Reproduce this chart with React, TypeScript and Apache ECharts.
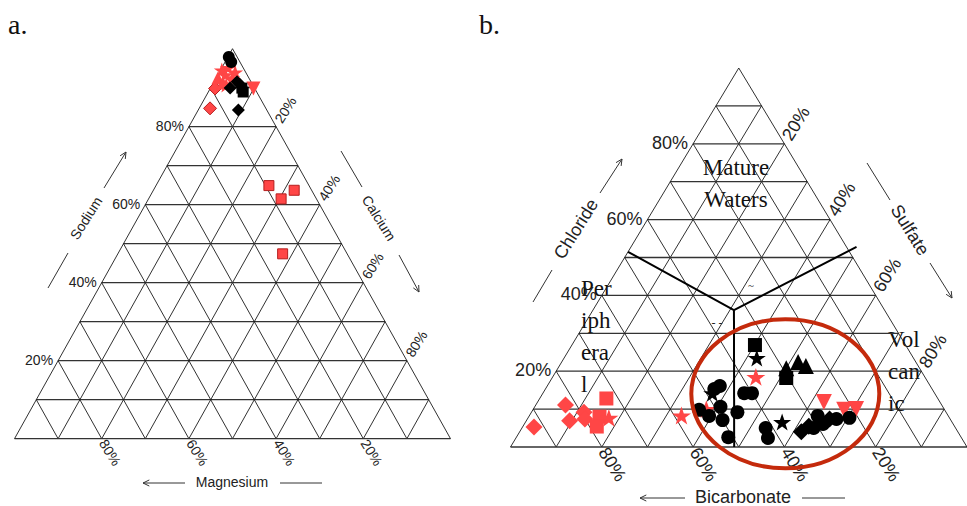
import React, { useEffect, useRef } from "react";
import * as echarts from "echarts";

// ---------- Plot a: [Sodium %, Calcium %, Magnesium %] ----------
const aBlackCircle = [[97.9, 0.2, 1.9], [96.6, 1.4, 2.0]];
const aBlackDiamond = [[91.5, 5.3, 3.2], [89.9, 4.5, 5.6], [84.3, 9.2, 6.5], [90.9, 6.2, 2.9]];
const aBlackSquare = [[89.9, 7.2, 2.9], [88.9, 8.0, 3.1]];
const aRedStar = [[94.5, 0.3, 5.2], [93.3, 1.7, 5.0], [95.1, 1.4, 3.5], [92.5, 3.7, 3.8], [94.0, 3.6, 2.4], [90.7, 3.2, 6.1]];
const aRedTriangle = [[92.5, 0.4, 7.1], [91.2, 2.2, 6.6]];
const aRedDiamond = [[84.7, 2.5, 12.8], [89.8, 1.1, 9.1]];
const aRedDown = [[89.8, 9.9, 0.3]];
const aRedSquare = [[64.9, 25.9, 9.2], [61.5, 30.4, 8.1], [63.7, 32.3, 4.0], [47.4, 37.8, 14.8]];

// ---------- Plot b: [Chloride %, Sulfate %, Bicarbonate %] ----------
const bBlackCircle = [
  [16.1, 37.8, 46.1], [15.3, 37.0, 47.7], [14.2, 44.1, 41.7], [14.2, 45.8, 40.0], [9.8, 36.4, 53.8],
  [8.2, 39.4, 52.4], [10.6, 40.7, 48.7], [7.1, 42.9, 50.0], [9.2, 45.1, 45.7], [2.6, 46.4, 51.0],
  [5.0, 53.4, 41.6], [2.4, 55.2, 42.4], [8.2, 63.2, 28.6], [6.1, 65.4, 28.5], [7.4, 67.7, 24.9],
  [7.7, 70.4, 21.9], [5.0, 63.9, 31.1],
];
const bBlackStar = [[14.2, 37.1, 48.7], [23.5, 42.2, 34.3], [6.6, 56.2, 37.2]];
const bBlackSquare = [[26.9, 40.1, 33.0], [18.2, 51.3, 30.5]];
const bBlackTriangle = [[20.8, 50.0, 29.2], [22.4, 51.8, 25.8], [21.4, 54.0, 24.6]];
const bBlackDiamond = [[4.0, 61.7, 34.3], [5.5, 62.6, 31.9], [7.4, 66.2, 26.4]];
const bRedDown = [[11.9, 62.7, 25.4], [9.8, 68.2, 22.0], [10.0, 70.7, 19.3]];
const bRedStar = [[7.7, 17.7, 74.6], [8.3, 33.3, 58.4], [10.0, 37.9, 52.1], [18.5, 44.5, 37.0]];
const bRedSquare = [[12.8, 14.6, 72.6], [8.0, 15.5, 76.5], [5.4, 16.2, 78.4]];
const bRedDiamond = [[5.3, 2.5, 92.2], [11.1, 6.5, 82.4], [6.9, 9.5, 83.6], [9.2, 11.5, 79.3], [7.4, 12.6, 80.0]];

// field boundaries of plot b (ternary)
const bBoundaryY = [[51.5, 0.0, 48.5], [36.1, 30.9, 33.0], [52.8, 49.4, -2.2]];
const bBoundaryV = [[36.1, 30.9, 33.0], [0.0, 49.0, 51.0]];

// tick labels
const tickValues = [20, 40, 60, 80];
const tickLabels = ["20%", "40%", "60%", "80%"];

const SANS = "'Liberation Sans', Arial, Helvetica, sans-serif";
const SERIF = "'Liberation Serif', 'Times New Roman', serif";
const DEG = Math.PI / 180;
const RED = "#ff4646";
const STAR = "path://M50,0 L61.8,35.1 98.1,35.1 68.7,56.8 79.4,90.5 50,69.1 20.6,90.5 31.3,56.8 1.9,35.1 38.2,35.1 Z";

function toXY(t: number[]): number[] {
  return [(t[1] + t[0] / 2) / 100, t[0] / 100];
}

const gridSegments: number[][] = [];
for (let k = 1; k <= 9; k++) {
  const f = k / 10;
  gridSegments.push([f / 2, f, 1 - f / 2, f, 1]);
  gridSegments.push([f, 0, f + (1 - f) / 2, 1 - f, 0]);
  gridSegments.push([1 - f, 0, (1 - f) / 2, 1 - f, 0]);
}
gridSegments.push([0, 0, 1, 0, 1], [0, 0, 0.5, 1, 0], [1, 0, 0.5, 1, 0]);

const tickData: number[][] = [];
tickValues.forEach((v, i) => {
  const f = v / 100;
  tickData.push([f / 2, f, i, 0]);
  tickData.push([f + (1 - f) / 2, 1 - f, i, 1]);
  tickData.push([1 - f, 0, i, 2]);
});

const gridRender = (_p: any, api: any) => {
  const p1 = api.coord([api.value(0), api.value(1)]);
  const p2 = api.coord([api.value(2), api.value(3)]);
  const h = api.value(4) === 1;
  return {
    type: "line",
    shape: { x1: p1[0], y1: p1[1], x2: p2[0], y2: p2[1] },
    style: { stroke: h ? "#333" : "#1a1a1a", lineWidth: h ? 1.3 : 0.9 },
  };
};

const makeTickRender = (fontSize: number) => (_p: any, api: any) => {
  const side = api.value(3);
  const idx = api.value(2);
  const p = api.coord([api.value(0), api.value(1)]);
  let dx = 0, dy = 0, rot = 0, align = "left";
  if (side === 0) { dx = -5; dy = -1; align = "right"; }
  else if (side === 1) { dx = 2; dy = -5; rot = 58 * DEG; }
  else { dx = 1; dy = 2; rot = -58 * DEG; }
  return {
    type: "text",
    x: p[0] + dx,
    y: p[1] + dy,
    rotation: rot,
    style: { text: tickLabels[idx], fontSize, fontFamily: SANS, fill: "#222", align, verticalAlign: "middle" },
  };
};

function arrowEls(x1: number, y1: number, x2: number, y2: number, head: boolean): any[] {
  const els: any[] = [{ type: "line", shape: { x1, y1, x2, y2 }, style: { stroke: "#333", lineWidth: 1 } }];
  if (head) {
    const a = Math.atan2(y2 - y1, x2 - x1);
    const L = 7, s = 0.45;
    els.push({
      type: "polyline",
      shape: {
        points: [
          [x2 - L * Math.cos(a - s), y2 - L * Math.sin(a - s)],
          [x2, y2],
          [x2 - L * Math.cos(a + s), y2 - L * Math.sin(a + s)],
        ],
      },
      style: { stroke: "#333", lineWidth: 1, fill: "none" },
    });
  }
  return els;
}

function titleText(text: string, x: number, y: number, rot: number, fontSize: number) {
  return {
    type: "text", x, y, rotation: rot * DEG,
    style: { text, fontSize, fontFamily: SANS, fill: "#222", align: "center", verticalAlign: "middle" },
  };
}

function serifText(text: string, x: number, y: number, fontSize: number, align = "left") {
  return {
    type: "text", x, y,
    style: { text, fontSize, fontFamily: SERIF, fill: "#111", align, verticalAlign: "middle" },
  };
}

function scatter(g: number, data: number[][], symbol: string, size: number, color: string, extra: any = {}) {
  return {
    type: "scatter",
    xAxisIndex: g,
    yAxisIndex: g,
    data: data.map(toXY),
    symbol,
    symbolSize: size,
    symbolKeepAspect: true,
    itemStyle: { color, opacity: 1, ...(extra.itemStyle || {}) },
    symbolRotate: extra.rotate || 0,
    z: 5,
    silent: true,
  };
}

const redBorder = { itemStyle: { borderColor: "#b51f1f", borderWidth: 1 } };

export default function App() {
  const ref = useRef<HTMLDivElement>(null);
  useEffect(() => {
    if (!ref.current) return;
    const chart = echarts.init(ref.current, undefined, { renderer: "svg" });
    const graphic: any[] = [
      serifText("a.", 8, 24, 28),
      serifText("b.", 479, 24, 28),
      // plot a titles
      titleText("Sodium", 86, 218, 58, 14),
      titleText("Calcium", 379, 218, -58, 14),
      titleText("Magnesium", 232, 482, 0, 14),
      ...arrowEls(48, 288, 68, 253, false),
      ...arrowEls(104, 188, 126, 152, true),
      ...arrowEls(341, 151, 362, 187, false),
      ...arrowEls(399, 255, 419, 292, true),
      ...arrowEls(185, 483, 143, 483, true),
      ...arrowEls(280, 483, 322, 483, false),
      // plot b titles
      titleText("Chloride", 576, 229, 58, 18),
      titleText("Sulfate", 910, 230, -58, 18),
      titleText("Bicarbonate", 743, 497, 0, 18),
      ...arrowEls(533, 302, 552, 270, false),
      ...arrowEls(600, 193, 622, 159, true),
      ...arrowEls(867, 163, 890, 200, false),
      ...arrowEls(930, 263, 952, 298, true),
      ...arrowEls(685, 498, 640, 498, true),
      ...arrowEls(802, 498, 845, 498, false),
      // region labels
      serifText("Mature", 736, 167, 23, "center"),
      serifText("Waters", 736, 199, 23, "center"),
      serifText("Per", 581, 288, 23),
      serifText("iph", 581, 320, 23),
      serifText("era", 581, 352, 23),
      serifText("l", 581, 384, 23),
      serifText("Vol", 888, 339, 23),
      serifText("can", 888, 371, 23),
      serifText("ic", 888, 403, 23),
      { type: "text", x: 751, y: 285, style: { text: "~", fontSize: 11, fontFamily: SERIF, fill: "#222", align: "center", verticalAlign: "middle" } },
      { type: "text", x: 717, y: 323, style: { text: "- -", fontSize: 12, fontFamily: SERIF, fill: "#222", align: "center", verticalAlign: "middle" } },
      { type: "text", x: 763, y: 320, style: { text: "~", fontSize: 11, fontFamily: SERIF, fill: "#222", align: "center", verticalAlign: "middle" } },
      {
        type: "ellipse",
        shape: { cx: 785.3, cy: 393.8, rx: 94, ry: 74.5 },
        style: { stroke: "#c42a0c", lineWidth: 4, fill: "none" },
        z: 100,
      },
    ];

    const axisCommon = { type: "value", min: 0, max: 1, show: false };
    chart.setOption({
      animation: false,
      backgroundColor: "#fff",
      grid: [
        { left: 14.5, top: 48.7, width: 436, height: 390 },
        { left: 510.5, top: 68, width: 465, height: 379 },
      ],
      xAxis: [{ ...axisCommon, gridIndex: 0 }, { ...axisCommon, gridIndex: 1 }],
      yAxis: [{ ...axisCommon, gridIndex: 0 }, { ...axisCommon, gridIndex: 1 }],
      graphic,
      series: [
        { type: "custom", xAxisIndex: 0, yAxisIndex: 0, data: gridSegments, renderItem: gridRender, silent: true, z: 1 },
        { type: "custom", xAxisIndex: 1, yAxisIndex: 1, data: gridSegments, renderItem: gridRender, silent: true, z: 1 },
        { type: "custom", xAxisIndex: 0, yAxisIndex: 0, data: tickData, renderItem: makeTickRender(14), silent: true, z: 2 },
        { type: "custom", xAxisIndex: 1, yAxisIndex: 1, data: tickData, renderItem: makeTickRender(18), silent: true, z: 2 },
        {
          type: "line", xAxisIndex: 1, yAxisIndex: 1, data: bBoundaryY.map(toXY), symbol: "none",
          lineStyle: { color: "#000", width: 2 }, z: 3, silent: true,
        },
        {
          type: "line", xAxisIndex: 1, yAxisIndex: 1, data: bBoundaryV.map(toXY), symbol: "none",
          lineStyle: { color: "#000", width: 2 }, z: 3, silent: true,
        },
        // plot a
        scatter(0, aRedSquare, "rect", 10, RED, redBorder),
        scatter(0, aRedDiamond, "diamond", 13, RED, redBorder),
        scatter(0, aRedStar, STAR, 16, RED),
        scatter(0, aRedTriangle, "triangle", 13, RED),
        scatter(0, aRedDown, "triangle", 14, RED, { rotate: 180 }),
        scatter(0, aBlackDiamond, "diamond", 13, "#000"),
        scatter(0, aBlackSquare, "rect", 11, "#000"),
        scatter(0, aBlackCircle, "circle", 12, "#000"),
        // plot b
        scatter(1, bRedDiamond, "diamond", 17, RED),
        scatter(1, bRedSquare, "rect", 14, RED),
        scatter(1, bRedStar, STAR, 19, RED),
        scatter(1, bRedDown, "triangle", 16, RED, { rotate: 180 }),
        scatter(1, bBlackCircle, "circle", 14, "#000"),
        scatter(1, bBlackDiamond, "diamond", 17, "#000"),
        scatter(1, bBlackSquare, "rect", 14, "#000"),
        scatter(1, bBlackTriangle, "triangle", 16, "#000"),
        scatter(1, bBlackStar, STAR, 18, "#000"),
      ],
    });
    return () => chart.dispose();
  }, []);
  return (
    <div
      ref={ref}
      style={{ position: "fixed", left: 0, top: 0, width: 967, height: 506, background: "#fff" }}
    />
  );
}
